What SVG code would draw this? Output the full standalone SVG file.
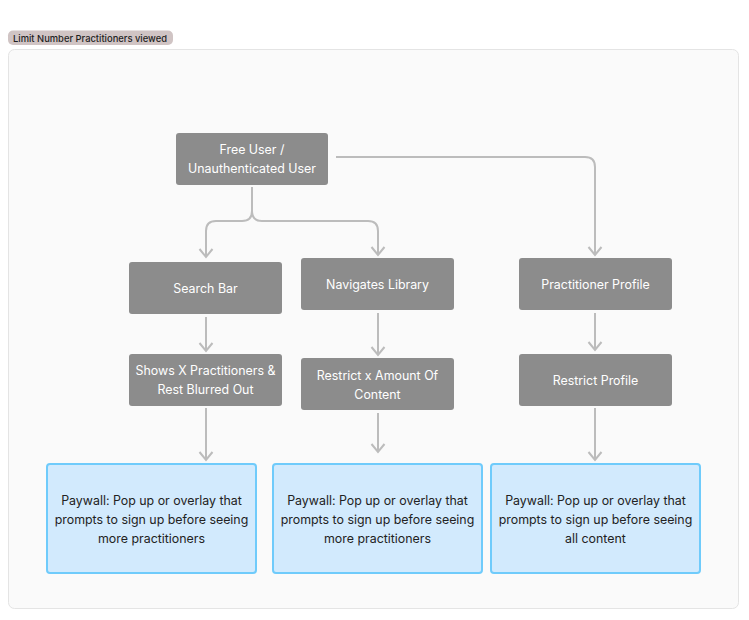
<svg xmlns="http://www.w3.org/2000/svg" width="749" height="620" viewBox="0 0 749 620">
<defs>
<style>
.node rect{fill:#8c8c8c;}
.node text{fill:#ffffff;font-family:Inter,"Liberation Sans",sans-serif;font-size:12.4px;text-anchor:middle;}
.pay rect{fill:#d2eafd;stroke:#6fcbfb;stroke-width:2;}
.pay text{fill:#222222;font-family:Inter,"Liberation Sans",sans-serif;font-size:12.4px;text-anchor:middle;}
.conn path{fill:none;stroke:#bcbcbc;stroke-width:2;}
</style>
<marker id="arr" markerUnits="userSpaceOnUse" markerWidth="20" markerHeight="20" viewBox="-10 -10 20 20" refX="0" refY="0" orient="auto">
<path d="M-8,-6.5 L0,0 L-8,6.5" fill="none" stroke="#bcbcbc" stroke-width="2"/>
</marker>
</defs>
<rect width="749" height="620" fill="#ffffff"/>
<g id="section">
<rect x="8.5" y="49.5" width="730" height="559" rx="6" fill="#fafafa" stroke="#e4e4e4" stroke-width="1"/>
<rect x="8" y="30.5" width="165" height="14.5" rx="5" fill="#d0c4c4"/>
<text x="13" y="41.5" font-family="Inter,'Liberation Sans',sans-serif" font-size="9.4px" font-weight="500" fill="#1e1e1e">Limit Number Practitioners viewed</text>
</g>
<g id="connectors" class="conn">
<path d="M252,187 V211 Q252,221 242,221 H216 Q206,221 206,231 V257" marker-end="url(#arr)"/>
<path d="M252,211 Q252,221 262,221 H368 Q378,221 378,231 V255" marker-end="url(#arr)"/>
<path d="M336,157 H585 Q595,157 595,167 V255" marker-end="url(#arr)"/>
<path d="M206,317 V351" marker-end="url(#arr)"/>
<path d="M206,408 V460" marker-end="url(#arr)"/>
<path d="M378,313 V355" marker-end="url(#arr)"/>
<path d="M378,413 V452" marker-end="url(#arr)"/>
<path d="M595,313 V350" marker-end="url(#arr)"/>
<path d="M595,408 V460" marker-end="url(#arr)"/>
</g>
<g id="free-user" class="node">
<rect x="176" y="133" width="152" height="52" rx="3"/>
<text x="252" y="154">Free User /</text>
<text x="252" y="173">Unauthenticated User</text>
</g>
<g id="search-bar" class="node">
<rect x="129" y="262" width="153" height="52" rx="3"/>
<text x="205.5" y="292.5">Search Bar</text>
</g>
<g id="navigates-library" class="node">
<rect x="301" y="258" width="153" height="52" rx="3"/>
<text x="377.5" y="288.5">Navigates Library</text>
</g>
<g id="practitioner-profile" class="node">
<rect x="519" y="258" width="153" height="52" rx="3"/>
<text x="595.5" y="288.5">Practitioner Profile</text>
</g>
<g id="shows-x" class="node">
<rect x="129" y="354" width="153" height="52" rx="3"/>
<text x="205.5" y="375">Shows X Practitioners &amp;</text>
<text x="205.5" y="394">Rest Blurred Out</text>
</g>
<g id="restrict-content" class="node">
<rect x="301" y="358" width="153" height="52" rx="3"/>
<text x="377.5" y="380">Restrict x Amount Of</text>
<text x="377.5" y="399">Content</text>
</g>
<g id="restrict-profile" class="node">
<rect x="519" y="354" width="153" height="52" rx="3"/>
<text x="595.5" y="384.5">Restrict Profile</text>
</g>
<g id="paywall-1" class="pay">
<rect x="47" y="464" width="209" height="109" rx="3"/>
<text x="151.5" y="504.5">Paywall: Pop up or overlay that</text>
<text x="151.5" y="523.5">prompts to sign up before seeing</text>
<text x="151.5" y="542.5">more practitioners</text>
</g>
<g id="paywall-2" class="pay">
<rect x="273" y="464" width="209" height="109" rx="3"/>
<text x="377.5" y="504.5">Paywall: Pop up or overlay that</text>
<text x="377.5" y="523.5">prompts to sign up before seeing</text>
<text x="377.5" y="542.5">more practitioners</text>
</g>
<g id="paywall-3" class="pay">
<rect x="491" y="464" width="209" height="109" rx="3"/>
<text x="595.5" y="504.5">Paywall: Pop up or overlay that</text>
<text x="595.5" y="523.5">prompts to sign up before seeing</text>
<text x="595.5" y="542.5">all content</text>
</g>
</svg>
